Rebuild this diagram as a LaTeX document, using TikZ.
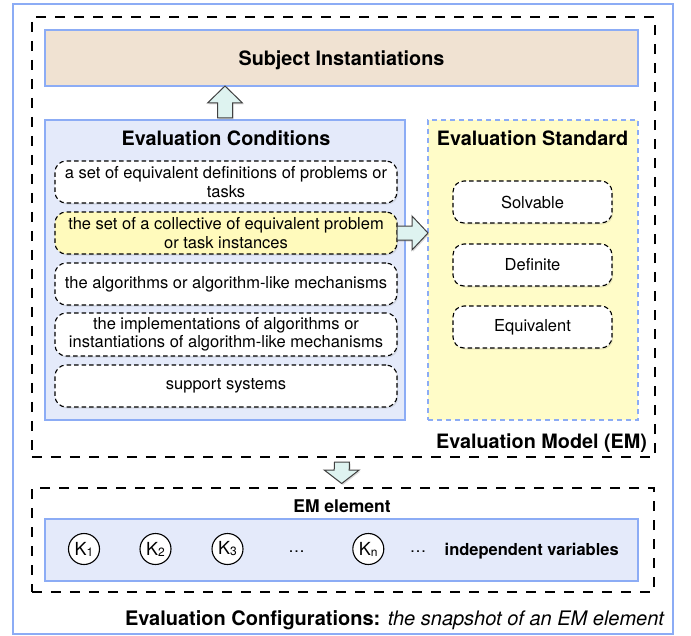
\documentclass[tikz,border=0pt]{standalone}
\usepackage{fontspec}
\setmainfont{TeX Gyre Heros}
\usetikzlibrary{calc,shadows}
\definecolor{bluebd}{RGB}{140,172,245}
\definecolor{subjfill}{RGB}{240,226,210}
\definecolor{ecfill}{RGB}{228,234,250}
\definecolor{esfill}{RGB}{255,252,200}
\definecolor{itemyel}{RGB}{255,250,188}
\definecolor{arrfill}{RGB}{222,243,240}
\newcommand{\ksub}[1]{\raisebox{-1bp}{\fontsize{12bp}{12bp}\selectfont #1}}
\tikzset{
  plainbox/.style={inner sep=0pt, outer sep=0pt, rectangle},
  outerbox/.style={plainbox, draw=bluebd, line width=2bp},
  emdash/.style={plainbox, draw=black, line width=2bp, dash pattern=on 10bp off 9bp},
  bluebox/.style={plainbox, draw=bluebd, line width=2bp},
  esbox/.style={plainbox, draw=bluebd, fill=esfill, line width=1.5bp, dash pattern=on 5bp off 4bp},
  titletext/.style={inner sep=0pt, outer sep=0pt, font=\fontsize{19.8bp}{22bp}\selectfont\bfseries},
  itembox/.style={plainbox, draw=black, line width=1.1bp, dash pattern=on 4.5bp off 3bp, rounded corners=11bp,
     fill=white, align=center, font=\fontsize{16.5bp}{18.4bp}\selectfont,
     drop shadow={shadow xshift=1.2bp, shadow yshift=-1.5bp, opacity=0.18}},
  kcirc/.style={circle, draw=black, line width=1.1bp, fill=white, minimum size=31bp, inner sep=0pt,
     font=\fontsize{18bp}{18bp}\selectfont},
  smalltext/.style={inner sep=0pt, font=\fontsize{16.5bp}{18bp}\selectfont},
  barrow/.style={draw=black!75, line width=1bp, fill=arrfill, line join=miter,
     drop shadow={shadow xshift=1.2bp, shadow yshift=-1.5bp, opacity=0.3}}
}
\begin{document}
\begin{tikzpicture}[x=1bp,y=-1bp]
\useasboundingbox (0,0) rectangle (691,636);
% outer containers
\node[outerbox, minimum width=660bp, minimum height=630bp] (outer) at (343,319) {};
\node[emdash, minimum width=623bp, minimum height=440bp] (em) at (343.5,237) {};
% subject instantiations
\node[bluebox, fill=subjfill, minimum width=593bp, minimum height=56bp,
      font=\fontsize{19.8bp}{22bp}\selectfont\bfseries, text height=15bp, text depth=0bp] (subj) at (341.5,58) {Subject Instantiations};
% evaluation conditions
\node[bluebox, fill=ecfill, minimum width=360bp, minimum height=300bp] (ec) at (225,270) {};
\node[titletext, anchor=base] (ect) at (226,146) {Evaluation Conditions};
\node[itembox, minimum width=342bp, minimum height=42bp] (i1) at (226,182) {a set of equivalent definitions of problems or\\tasks};
\node[itembox, fill=itemyel, minimum width=342bp, minimum height=42bp] (i2) at (226,233) {the set of a collective of equivalent problem\\or task instances};
\node[itembox, minimum width=342bp, minimum height=42bp] (i3) at (226,284) {the algorithms or algorithm-like mechanisms};
\node[itembox, minimum width=342bp, minimum height=43bp] (i4) at (226,334.5) {the implementations of algorithms or\\instantiations of algorithm-like mechanisms};
\node[itembox, minimum width=342bp, minimum height=42bp] (i5) at (226,386) {support systems};
% evaluation standard
\node[esbox, minimum width=210bp, minimum height=300bp] (es) at (533,270) {};
\node[titletext, anchor=base] (est) at (532.5,146) {Evaluation Standard};
\node[itembox, minimum width=159bp, minimum height=42bp] (s1) at (532.5,202) {Solvable};
\node[itembox, minimum width=159bp, minimum height=42bp] (s2) at (532.5,265) {Definite};
\node[itembox, minimum width=159bp, minimum height=42bp] (s3) at (532.5,327) {Equivalent};
% EM label
\node[titletext, anchor=base east] (eml) at (647,448.5) {Evaluation Model (EM)};
% EM element
\node[emdash, minimum width=622bp, minimum height=104bp] (emel) at (343,540) {};
\node[inner sep=0pt, font=\fontsize{17.5bp}{19bp}\selectfont\bfseries, anchor=base] (emelt) at (342,512) {EM element};
\node[bluebox, fill=ecfill, minimum width=593bp, minimum height=62bp] (vars) at (341.5,550) {};
\node[kcirc] (k1) at (84,549) {K\ksub{1}};
\node[kcirc] (k2) at (155.5,549) {K\ksub{2}};
\node[kcirc] (k3) at (227.5,549) {K\ksub{3}};
\node[smalltext] (d1) at (296.7,552) {…};
\node[kcirc] (kn) at (368.3,549) {K\ksub{n}};
\node[smalltext] (d2) at (418,552) {…};
\node[smalltext, font=\fontsize{16.5bp}{18bp}\selectfont\bfseries] (iv) at (531.7,551) {independent variables};
% bottom label
\node[inner sep=0pt, anchor=base east, font=\fontsize{20bp}{22bp}\selectfont] (cfg) at (665,625)
  {\textbf{Evaluation Configurations:} \textit{the snapshot of an EM element}};
% block arrows
\coordinate (ua) at (ec.north);
\coordinate (ut) at (subj.south -| ec.north);
\draw[barrow] ($(ua)+(-7.5,-2)$) -- ($(ut)+(-7.5,17)$) -- ($(ut)+(-17.5,17)$) -- (ut)
  -- ($(ut)+(17.5,17)$) -- ($(ut)+(7.5,17)$) -- ($(ua)+(7.5,-2)$) -- cycle;
\coordinate (rs) at (i2.east);
\coordinate (rt) at (es.west |- i2.east);
\draw[barrow] ($(rs)+(0,-7)$) -- ($(rt)+(-16,-7)$) -- ($(rt)+(-16,-17)$) -- (rt)
  -- ($(rt)+(-16,17)$) -- ($(rt)+(-16,7)$) -- ($(rs)+(0,7)$) -- cycle;
\coordinate (ds) at ($(em.south)+(-1.5,5)$);
\coordinate (dt) at ($(emel.north)+(-1.3,-4.5)$);
\draw[barrow] ($(ds)+(-7.5,0)$) -- ($(dt)+(-7.5,-13.5)$) -- ($(dt)+(-17.5,-13.5)$) -- (dt)
  -- ($(dt)+(17.5,-13.5)$) -- ($(dt)+(7.5,-13.5)$) -- ($(ds)+(7.5,0)$) -- cycle;
\end{tikzpicture}
\end{document}
